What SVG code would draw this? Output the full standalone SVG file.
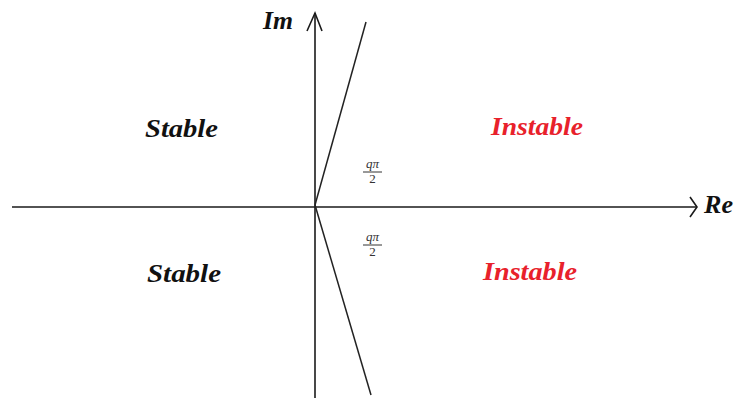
<svg xmlns="http://www.w3.org/2000/svg" width="735" height="398" viewBox="0 0 735 398">
<style>
.ax{stroke:#1a1a1a;stroke-width:1.6;fill:none}
.ln{stroke:#222;stroke-width:1.5;fill:none}
.lbl{font-family:"Liberation Serif",serif;font-weight:bold;font-style:italic;font-size:25px;fill:#111}
.red{fill:#e8212b}
.fr{font-family:"Liberation Serif",serif;font-size:13px;fill:#333}
.frl{stroke:#333;stroke-width:1}
</style>
<rect width="735" height="398" fill="#fff"/>
<g id="connectors">
<path class="ax" d="M315,398 V13"/>
<path class="ax" d="M307,31 L315,13 L322,31"/>
<path class="ax" d="M12,207 H697"/>
<path class="ax" d="M690,197 L697,207 L690,217"/>
<path class="ln" d="M315,205 L366,22"/>
<path class="ln" d="M315,205 L371,395"/>
</g>
<g id="im"><text class="lbl" x="263" y="29" textLength="30" lengthAdjust="spacingAndGlyphs">Im</text></g>
<g id="re"><text class="lbl" x="704" y="213" textLength="29" lengthAdjust="spacingAndGlyphs">Re</text></g>
<g id="stable-top"><text class="lbl" x="145" y="137" textLength="73" lengthAdjust="spacingAndGlyphs">Stable</text></g>
<g id="instable-top"><text class="lbl red" x="491" y="135" textLength="92" lengthAdjust="spacingAndGlyphs">Instable</text></g>
<g id="stable-bottom"><text class="lbl" x="147" y="282" textLength="74" lengthAdjust="spacingAndGlyphs">Stable</text></g>
<g id="instable-bottom"><text class="lbl red" x="483" y="280" textLength="94" lengthAdjust="spacingAndGlyphs">Instable</text></g>
<g id="angle-top">
<text class="fr" x="372.5" y="168" text-anchor="middle" font-style="italic">qπ</text>
<line class="frl" x1="363" y1="172" x2="382" y2="172"/>
<text class="fr" x="372.5" y="183" text-anchor="middle">2</text>
</g>
<g id="angle-bottom">
<text class="fr" x="372.5" y="241" text-anchor="middle" font-style="italic">qπ</text>
<line class="frl" x1="363" y1="245" x2="382" y2="245"/>
<text class="fr" x="372.5" y="256" text-anchor="middle">2</text>
</g>
</svg>
